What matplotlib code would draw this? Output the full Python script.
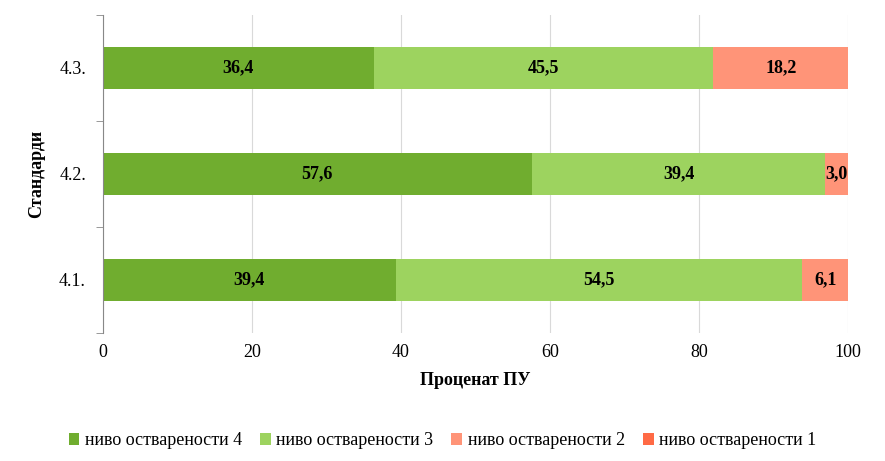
import numpy as np
import matplotlib.pyplot as plt

plt.rcParams['font.family'] = 'Liberation Serif'

standards = ['4.1.', '4.2.', '4.3.']
level4 = [39.4, 57.6, 36.4]
level3 = [54.5, 39.4, 45.5]
level2 = [6.1, 3.0, 18.2]
level1 = [0, 0, 0]
series = [level4, level3, level2, level1]
names = ['ниво оствареności 4']
names = ['ниво оствареност' + 'и ' + str(i) for i in (4, 3, 2, 1)]
colors = ['#70AD2F', '#9DD35F', '#FF9478', '#FF6A45']

fig = plt.figure(figsize=(8.85, 4.61), dpi=100)
ax = fig.add_axes([0.116, 0.278, 0.842, 0.69])
y = np.arange(len(standards))
left = np.zeros(len(standards))
for vals, name, c in zip(series, names, colors):
    vals = np.array(vals)
    ax.barh(y, vals, left=left, height=0.4, color=c, label=name, zorder=2)
    for yi, l, v in zip(y, left, vals):
        if v > 0:
            ax.text(l + v / 2, yi, f'{v:.1f}'.replace('.', ','), ha='center', va='center',
                    fontsize=13, fontweight='bold', zorder=3)
    left += vals

ax.set_xlim(0, 100)
ax.set_ylim(-0.5, 2.5)
ax.set_xticks(range(0, 101, 20))
ax.set_yticks(y)
ax.set_yticklabels(standards)
ax.set_yticks([-0.5, 0.5, 1.5, 2.5], minor=True)
ax.tick_params(axis='y', which='major', length=0, pad=12, labelsize=13)
ax.tick_params(axis='y', which='minor', length=5, color='#888888')
ax.tick_params(axis='x', length=0, labelsize=13, pad=8)
ax.grid(axis='x', color='#D9D9D9', zorder=0)
for s in ['top', 'right', 'bottom']:
    ax.spines[s].set_visible(False)
ax.spines['left'].set_color('#888888')
ax.set_xlabel('Проценат ПУ', fontsize=13, fontweight='bold', labelpad=8)
ax.set_ylabel('Стандарди', fontsize=13, fontweight='bold', labelpad=10)
fig.legend(loc='lower center', ncol=4, frameon=False, fontsize=13,
           bbox_to_anchor=(0.5, -0.01), handlelength=0.6, handleheight=0.6,
           columnspacing=1.0, handletextpad=0.3)
fig.savefig('out.png')
